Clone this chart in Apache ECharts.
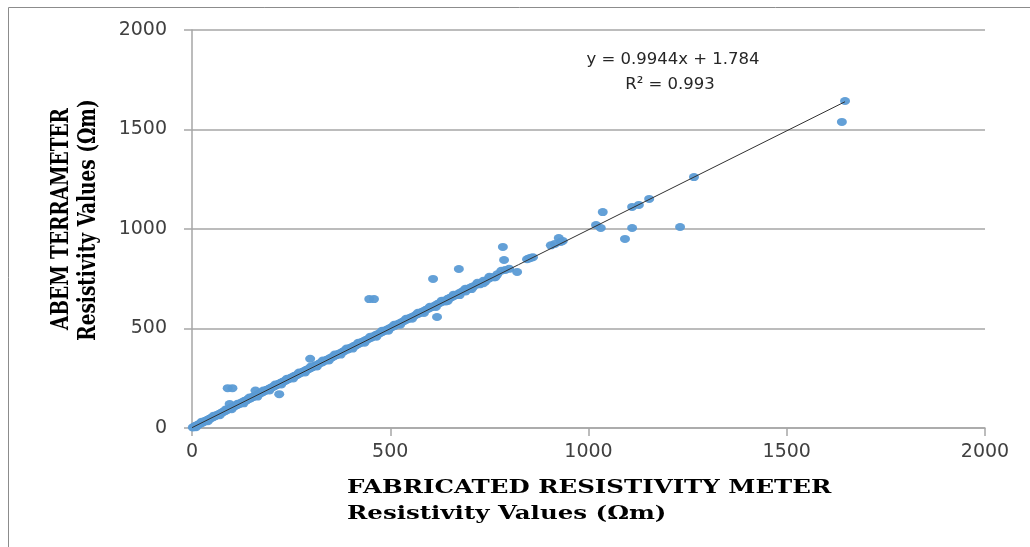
<!DOCTYPE html>
<html>
<head>
<meta charset="utf-8">
<script src="https://cdn.jsdelivr.net/npm/echarts@6/dist/echarts.min.js"></script>
<style>html,body{margin:0;padding:0;background:#fff;}#chart{width:1030px;height:547px;}</style>
</head>
<body>
<div id="chart"></div>
<script>
// Fabricated meter readings (x) vs ABEM Terrameter readings (y), Ωm
const fabricated = [2,5,8,11,14,17,20,23,26,29,32,35,38,41,44,47,50,53,56,59,62,65,68,71,74,77,80,83,86,89,90,92,95,98,101,102,104,107,110,113,116,119,122,125,128,131,134,137,140,143,146,149,152,155,158,160,161,164,167,170,173,176,179,182,185,188,191,194,197,200,203,206,209,212,215,218,220,221,224,227,230,233,236,239,242,245,248,251,254,257,260,263,266,269,272,275,278,281,284,287,290,293,296,298,300,304,308,312,316,320,324,328,332,336,340,344,348,352,356,360,364,368,372,376,380,384,388,392,396,400,404,408,412,416,420,424,428,432,436,440,444,447,448,452,456,459,460,464,468,472,476,480,485,490,495,500,505,510,515,520,525,530,535,540,545,550,555,560,565,570,575,580,585,590,595,600,605,608,610,615,618,620,625,630,635,640,645,650,655,660,665,670,673,675,680,685,690,695,700,705,710,718,725,728,735,740,748,755,760,770,780,784,787,790,800,820,845,850,855,860,905,915,925,930,935,1019,1031,1036,1092,1110,1110,1127,1153,1231,1266,1639,1647,
  10,25,40,55,70,85,100,115,130,145,165,180,195,210,225,240,255,270,285,300,315,330,345,360,375,390,405,420,435,450,465,480,495,510,525,540,555,570,585,600,615,630,645,660,675,690,705,720,735,750,765];
const abem = [3,6,10,12,15,18,22,24,27,31,33,37,40,42,46,49,52,54,58,61,63,67,70,72,76,80,82,84,88,92,200,94,120,100,104,200,106,110,112,115,119,121,124,128,129,134,137,139,142,147,148,151,155,158,160,188,163,167,170,172,176,178,181,185,188,190,194,196,200,203,205,209,211,215,218,220,170,224,227,229,233,236,238,241,245,248,250,254,256,260,263,265,268,272,275,278,280,284,286,290,293,296,298,348,302,306,311,315,318,323,327,330,336,338,343,346,351,355,358,363,366,371,375,378,383,386,392,394,399,403,406,412,414,419,424,426,432,434,440,443,446,648,452,454,460,648,462,468,470,475,479,483,488,493,498,503,508,512,519,523,528,533,538,543,548,554,558,563,569,573,578,584,588,594,598,604,608,749,612,618,558,624,628,633,640,636,649,653,658,663,668,672,799,679,684,690,686,698,702,708,712,721,722,726,740,736,750,758,757,772,790,910,844,794,800,784,848,852,856,858,918,925,955,935,940,1020,1005,1085,950,1005,1111,1121,1151,1010,1261,1538,1643,
  4,32,34,62,64,93,94,122,124,153,158,188,189,218,219,248,249,279,279,309,309,339,339,369,369,399,399,429,429,459,459,489,489,519,519,549,549,579,578,609,608,640,639,670,668,700,698,730,728,760,758];

// Linear trendline shown on the chart
const trendSlope = 0.9944;
const trendIntercept = 1.784;
const trendRange = [0, 1647];

const xTicks = [0, 500, 1000, 1500, 2000];
const yTicks = [0, 500, 1000, 1500, 2000];

const points = fabricated.map((x, i) => [x, abem[i]]);
const trend = trendRange.map(x => [x, trendSlope * x + trendIntercept]);

const chart = echarts.init(document.getElementById('chart'));
const labelFont = { fontFamily: 'DejaVu Sans', fontSize: 19, color: '#404040', formatter: v => String(v) };
chart.setOption({
  animation: false,
  grid: { left: 192, right: 45, top: 30, bottom: 119, containLabel: false },
  xAxis: {
    type: 'value', min: xTicks[0], max: xTicks[xTicks.length - 1], interval: 500,
    axisLine: { show: true, lineStyle: { color: '#a6a6a6', width: 1.5 } },
    axisTick: { show: true, length: 8, lineStyle: { color: '#a6a6a6', width: 1.5 } },
    axisLabel: Object.assign({ margin: 15 }, labelFont),
    splitLine: { show: false }
  },
  yAxis: {
    type: 'value', min: yTicks[0], max: yTicks[yTicks.length - 1], interval: 500,
    axisLine: { show: true, lineStyle: { color: '#a6a6a6', width: 1.5 } },
    axisTick: { show: true, length: 8, lineStyle: { color: '#a6a6a6', width: 1.5 } },
    axisLabel: Object.assign({ margin: 25 }, labelFont),
    splitLine: { show: true, lineStyle: { color: '#a6a6a6', width: 1.5 } }
  },
  series: [
    {
      type: 'scatter', data: points, symbol: 'circle', symbolSize: [10, 8],
      itemStyle: { color: '#5B9BD5', opacity: 0.95 }, z: 2
    },
    {
      type: 'line', data: trend, symbol: 'none', silent: true,
      lineStyle: { color: '#303030', width: 1 }, z: 3
    }
  ],
  graphic: [
    { type: 'rect', shape: { x: 8.5, y: 7.5, width: 1100, height: 700 }, style: { fill: 'none', stroke: '#8c8c8c', lineWidth: 1 }, silent: true },
    { type: 'text', x: 673, y: 60, style: { text: 'y = 0.9944x + 1.784', font: '16.5px "DejaVu Sans"', fill: '#262626', textAlign: 'center', textVerticalAlign: 'middle' } },
    { type: 'text', x: 670, y: 85, style: { text: 'R² = 0.993', font: '16.5px "DejaVu Sans"', fill: '#262626', textAlign: 'center', textVerticalAlign: 'middle' } },
    { type: 'text', x: 347, y: 488, scaleX: 1.36, style: { text: 'FABRICATED RESISTIVITY METER', font: 'bold 18px "DejaVu Serif"', fill: '#000', textAlign: 'left', textVerticalAlign: 'middle' } },
    { type: 'text', x: 347, y: 514, scaleX: 1.36, style: { text: 'Resistivity Values (Ωm)', font: 'bold 18px "DejaVu Serif"', fill: '#000', textAlign: 'left', textVerticalAlign: 'middle' } },
    { type: 'text', x: 62, y: 219, rotation: Math.PI / 2, scaleY: 1.3, style: { text: 'ABEM TERRAMETER', font: 'bold 18.5px "DejaVu Serif"', fill: '#000', textAlign: 'center', textVerticalAlign: 'middle' } },
    { type: 'text', x: 89, y: 220, rotation: Math.PI / 2, scaleY: 1.3, style: { text: 'Resistivity Values (Ωm)', font: 'bold 18.5px "DejaVu Serif"', fill: '#000', textAlign: 'center', textVerticalAlign: 'middle' } }
  ]
});
</script>
</body>
</html>
